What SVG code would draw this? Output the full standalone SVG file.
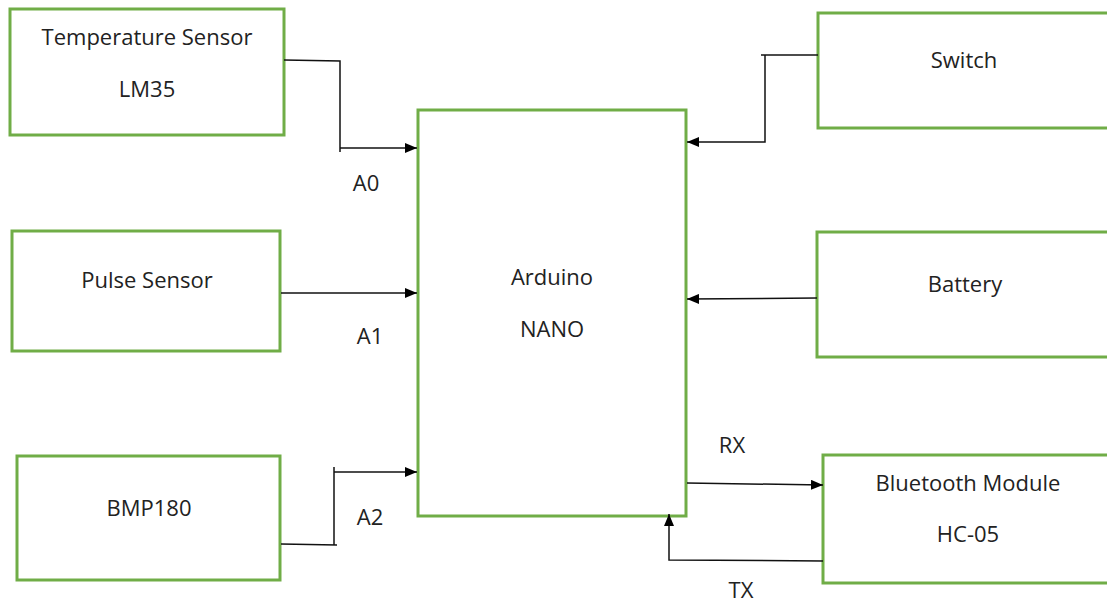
<svg xmlns="http://www.w3.org/2000/svg" width="1107" height="605" viewBox="0 0 1107 605">
<defs>
<style>
.box{fill:#fff;stroke:#70AD47;stroke-width:3}
.lbl{font-family:"Open Sans","Liberation Sans",sans-serif;font-size:22px;fill:#222;text-anchor:middle}
.ln{fill:none;stroke:#111;stroke-width:1.5}
</style>
<marker id="ah" viewBox="0 0 12 10" refX="12" refY="5" markerWidth="12" markerHeight="10" markerUnits="userSpaceOnUse" orient="auto">
<path d="M0,0 L12,5 L0,10 Z" fill="#000"/>
</marker>
</defs>
<rect width="1107" height="605" fill="#fff"/>
<g id="temp">
<rect class="box" x="10" y="9" width="274" height="126"/>
<text class="lbl" x="147" y="45">Temperature Sensor</text>
<text class="lbl" x="147" y="97">LM35</text>
</g>
<g id="pulse">
<rect class="box" x="12" y="231" width="268" height="120"/>
<text class="lbl" x="147" y="288">Pulse Sensor</text>
</g>
<g id="bmp">
<rect class="box" x="17" y="456" width="263" height="124"/>
<text class="lbl" x="149" y="516">BMP180</text>
</g>
<g id="arduino">
<rect class="box" x="418" y="110" width="268" height="406"/>
<text class="lbl" x="552" y="285">Arduino</text>
<text class="lbl" x="552" y="337">NANO</text>
</g>
<g id="switch">
<rect class="box" x="818" y="13" width="292" height="115"/>
<text class="lbl" x="964" y="68">Switch</text>
</g>
<g id="battery">
<rect class="box" x="817" y="232" width="293" height="125"/>
<text class="lbl" x="965" y="292">Battery</text>
</g>
<g id="bluetooth">
<rect class="box" x="823" y="455" width="287" height="128"/>
<text class="lbl" x="968" y="491">Bluetooth Module</text>
<text class="lbl" x="968" y="542">HC-05</text>
</g>
<g id="connectors">
<path class="ln" d="M284,60 L340,61 L340,152"/>
<path class="ln" d="M340,148 L417,148" marker-end="url(#ah)"/>
<path class="ln" d="M281,293 L417,293" marker-end="url(#ah)"/>
<path class="ln" d="M281,544 L337,545"/>
<path class="ln" d="M334,545 L334,467"/>
<path class="ln" d="M334,472 L417,472" marker-end="url(#ah)"/>
<path class="ln" d="M818,55 L761,55"/>
<path class="ln" d="M765,55 L765,142 L687,142" marker-end="url(#ah)"/>
<path class="ln" d="M817,298 L687,299" marker-end="url(#ah)"/>
<path class="ln" d="M687,483 L823,485" marker-end="url(#ah)"/>
<path class="ln" d="M823,561 L669,560 L669,514" marker-end="url(#ah)"/>
</g>
<g id="labels">
<text class="lbl" x="366" y="191">A0</text>
<text class="lbl" x="370" y="344">A1</text>
<text class="lbl" x="370" y="525">A2</text>
<text class="lbl" x="732" y="453">RX</text>
<text class="lbl" x="741" y="598">TX</text>
</g>
</svg>
